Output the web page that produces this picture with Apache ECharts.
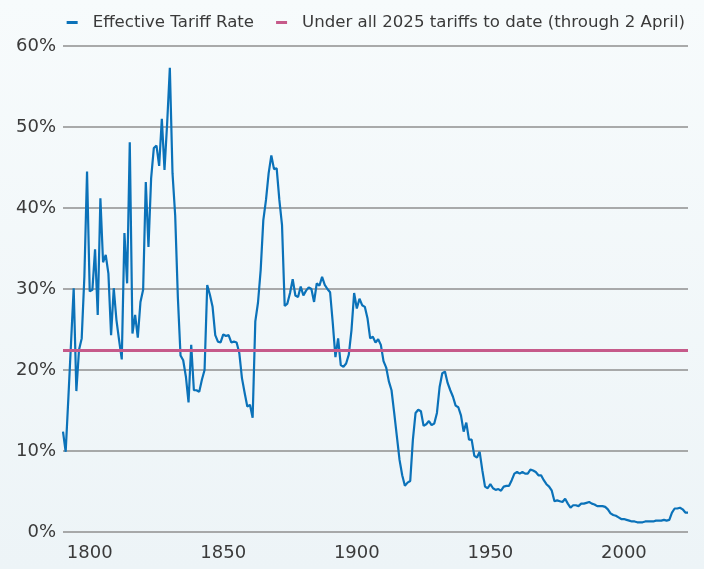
<!DOCTYPE html>
<html style="height: 100%">
<head>
    <meta charset="utf-8">
    <script type="text/javascript" src="https://cdn.jsdelivr.net/npm/echarts@6/dist/echarts.min.js"></script>
    <style>
        body { margin: 0; height: 100%; }
        #main { width: 704px; height: 569px; }
    </style>
</head>
<body>
<div id="main"></div>
<script type="text/javascript">
    // effective tariff rate, % of imports, one value per year
    var rate1790to1849 = [
        12.4, 9.9, 16.5, 23.3, 30.1, 17.4, 22.5, 23.9, 31.5, 44.5,
        29.7, 29.9, 34.9, 26.8, 41.2, 33.3, 34.2, 31.9, 24.3, 30.1,
        26.2, 23.7, 21.3, 36.9, 30.7, 48.1, 24.5, 26.8, 24.0, 28.4,
        29.9, 43.2, 35.2, 43.7, 47.4, 47.7, 45.2, 51.0, 44.7, 50.5,
        57.3, 44.3, 39.1, 29.0, 21.8, 21.2, 19.2, 16.0, 23.1, 17.5,
        17.5, 17.3, 18.8, 20.0, 30.5, 29.3, 27.8, 24.3, 23.5, 23.4
    ];
    var rate1850to1899 = [
        24.4, 24.2, 24.3, 23.4, 23.5, 23.4, 22.1, 19.0, 17.2, 15.5,
        15.7, 14.1, 26.0, 28.3, 32.3, 38.5, 41.0, 44.3, 46.5, 44.8,
        44.9, 41.0, 37.9, 27.9, 28.2, 29.5, 31.2, 29.2, 29.0, 30.3,
        29.2, 29.8, 30.2, 30.0, 28.4, 30.7, 30.4, 31.5, 30.5, 30.0,
        29.6, 25.8, 21.6, 23.9, 20.6, 20.4, 20.8, 21.9, 24.9, 29.5
    ];
    var rate1900to1949 = [
        27.6, 28.8, 28.0, 27.8, 26.4, 23.9, 24.1, 23.4, 23.8, 23.1,
        21.1, 20.3, 18.6, 17.5, 14.7, 11.8, 8.9, 7.0, 5.7, 6.1,
        6.3, 11.4, 14.7, 15.1, 14.9, 13.1, 13.3, 13.7, 13.2, 13.4,
        14.7, 17.9, 19.6, 19.8, 18.4, 17.5, 16.7, 15.6, 15.4, 14.4,
        12.4, 13.5, 11.4, 11.4, 9.4, 9.2, 9.9, 7.6, 5.6, 5.4
    ];
    var rate1950to2024 = [
        5.9, 5.4, 5.2, 5.3, 5.1, 5.6, 5.7, 5.7, 6.4, 7.2,
        7.4, 7.2, 7.4, 7.2, 7.2, 7.7, 7.6, 7.4, 7.0, 7.0,
        6.4, 5.9, 5.6, 5.1, 3.8, 3.9, 3.8, 3.7, 4.1, 3.5,
        3.0, 3.3, 3.3, 3.2, 3.5, 3.5, 3.6, 3.7, 3.5, 3.4,
        3.2, 3.2, 3.2, 3.1, 2.8, 2.3, 2.1, 2.0, 1.8, 1.6,
        1.6, 1.5, 1.4, 1.3, 1.3, 1.2, 1.2, 1.2, 1.3, 1.3,
        1.3, 1.3, 1.4, 1.4, 1.4, 1.5, 1.4, 1.5, 2.4, 2.9,
        2.9, 3.0, 2.8, 2.4, 2.4
    ];
    var tariff2025 = 22.4;
    var firstYear = 1790;
    var yTicks = [0, 10, 20, 30, 40, 50, 60];

    var rates = rate1790to1849.concat(rate1850to1899, rate1900to1949, rate1950to2024);
    var years = [];
    for (var i = 0; i < rates.length; i++) {
        years.push(String(firstYear + i));
    }

    var fontName = '"DejaVu Sans", sans-serif';
    var myChart = echarts.init(document.getElementById('main'));
    var option = {
        backgroundColor: new echarts.graphic.LinearGradient(0, 0, 0, 1, [
            {offset: 0, color: '#f7fbfc'},
            {offset: 1, color: '#edf4f7'}
        ]),
        textStyle: {fontFamily: fontName},
        legend: {
            top: 9,
            right: 14,
            itemWidth: 11,
            itemHeight: 3,
            itemGap: 22,
            icon: 'rect',
            textStyle: {fontSize: 16.6, color: '#3a3a3a', padding: [0, 0, 0, 10]},
            data: ['Effective Tariff Rate', 'Under all 2025 tariffs to date (through 2 April)']
        },
        grid: {left: 63, right: 16, top: 46, bottom: 37},
        xAxis: {
            type: 'category',
            data: years,
            boundaryGap: false,
            axisLine: {show: false},
            axisTick: {show: false},
            axisLabel: {
                fontSize: 18,
                color: '#3a3a3a',
                margin: 12,
                interval: function (idx, val) { return Number(val) % 50 === 0; }
            },
            splitLine: {show: false}
        },
        yAxis: {
            type: 'value',
            min: yTicks[0],
            max: yTicks[yTicks.length - 1],
            interval: 10,
            axisLine: {show: false},
            axisTick: {show: false},
            axisLabel: {fontSize: 18, color: '#3a3a3a', margin: 7, formatter: '{value}%'},
            splitLine: {lineStyle: {color: '#8f8f8f', width: 1.5}}
        },
        series: [
            {
                name: 'Effective Tariff Rate',
                type: 'line',
                data: rates,
                symbol: 'none',
                color: '#0b72b9',
                lineStyle: {width: 2.2, color: '#0b72b9'},
                z: 3
            },
            {
                name: 'Under all 2025 tariffs to date (through 2 April)',
                type: 'line',
                data: [],
                symbol: 'none',
                color: '#c65a8a',
                markLine: {
                    symbol: 'none',
                    silent: true,
                    label: {show: false},
                    lineStyle: {color: '#c65a8a', width: 3, type: 'solid'},
                    data: [{yAxis: tariff2025}]
                },
                z: 2
            }
        ]
    };
    myChart.setOption(option);
</script>
</body>
</html>
